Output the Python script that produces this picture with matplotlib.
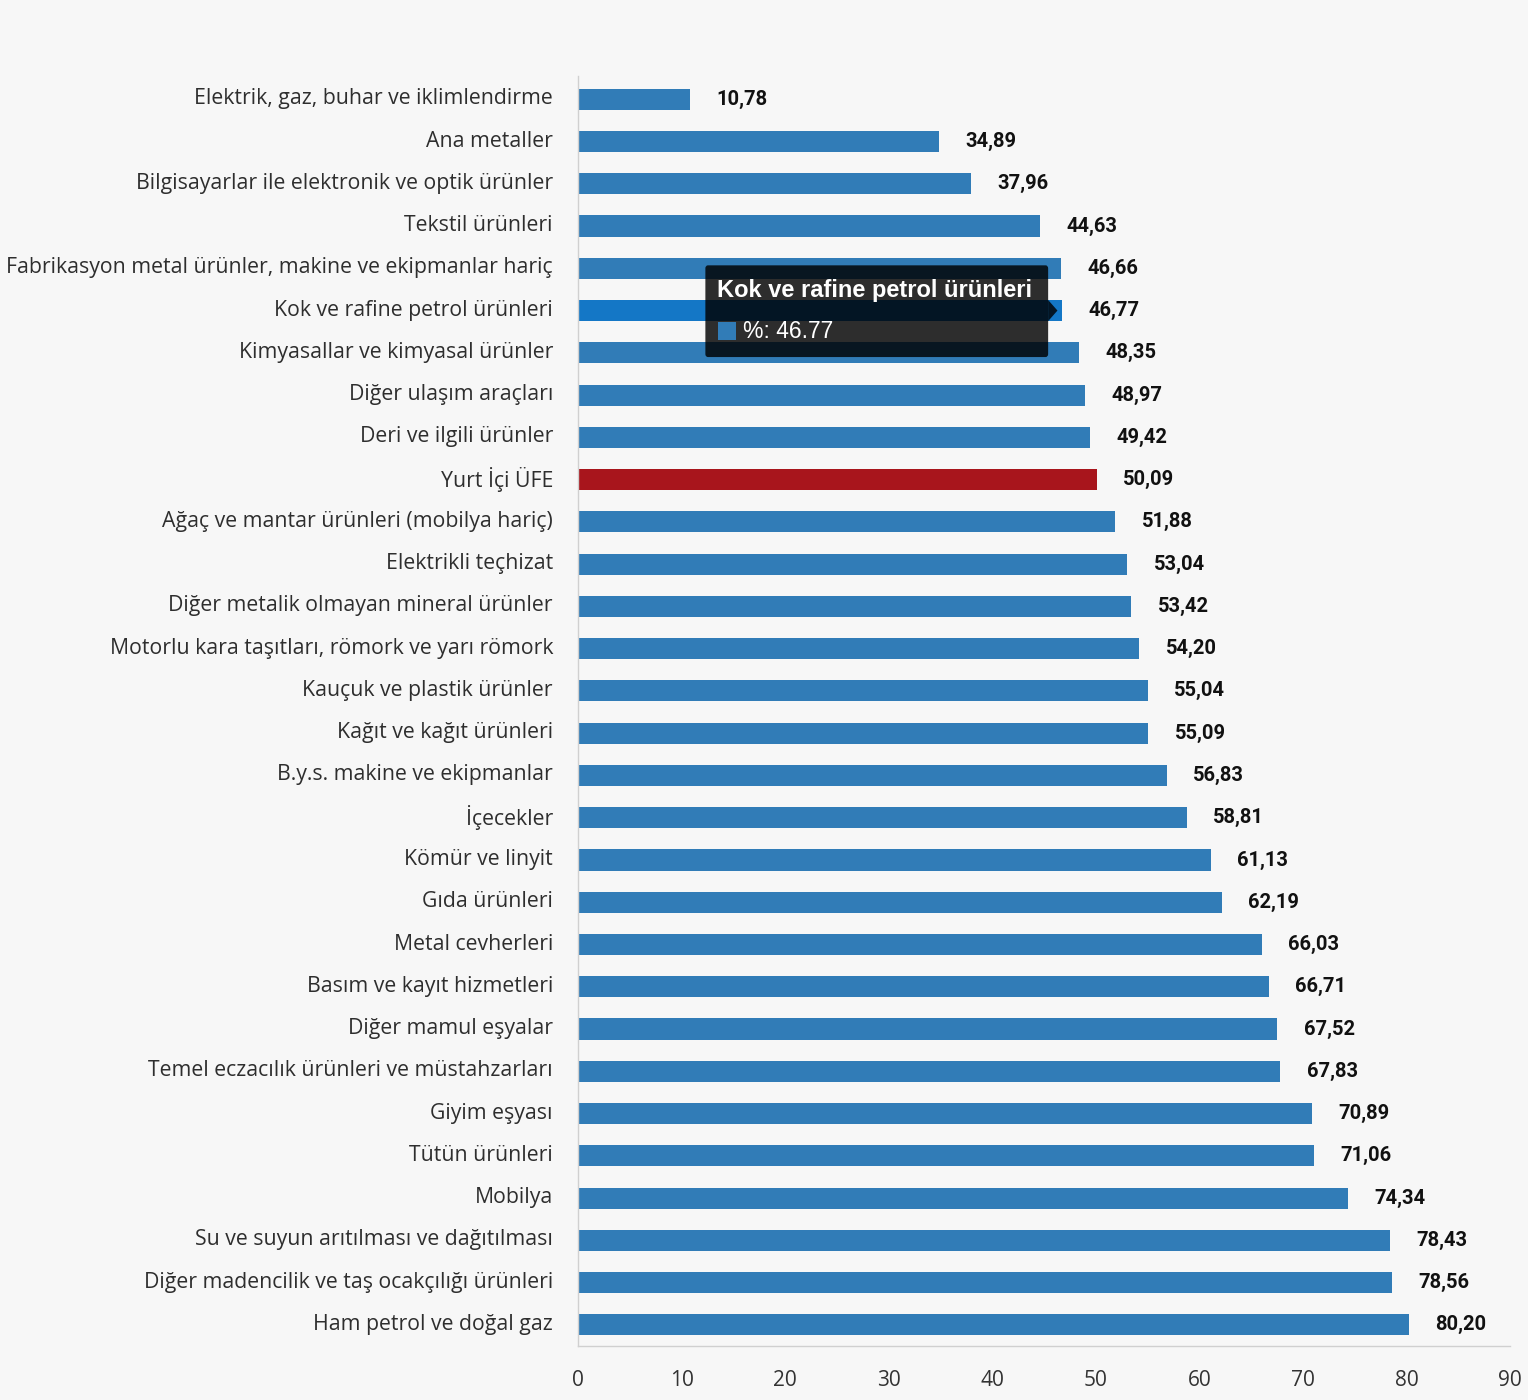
import matplotlib
matplotlib.use("Agg")
import matplotlib.pyplot as plt
from matplotlib.patches import FancyBboxPatch, Polygon, Rectangle
from matplotlib.transforms import ScaledTranslation

kategoriler = [
    "Elektrik, gaz, buhar ve iklimlendirme",
    "Ana metaller",
    "Bilgisayarlar ile elektronik ve optik ürünler",
    "Tekstil ürünleri",
    "Fabrikasyon metal ürünler, makine ve ekipmanlar hariç",
    "Kok ve rafine petrol ürünleri",
    "Kimyasallar ve kimyasal ürünler",
    "Diğer ulaşım araçları",
    "Deri ve ilgili ürünler",
    "Yurt İçi ÜFE",
    "Ağaç ve mantar ürünleri (mobilya hariç)",
    "Elektrikli teçhizat",
    "Diğer metalik olmayan mineral ürünler",
    "Motorlu kara taşıtları, römork ve yarı römork",
    "Kauçuk ve plastik ürünler",
    "Kağıt ve kağıt ürünleri",
    "B.y.s. makine ve ekipmanlar",
    "İçecekler",
    "Kömür ve linyit",
    "Gıda ürünleri",
    "Metal cevherleri",
    "Basım ve kayıt hizmetleri",
    "Diğer mamul eşyalar",
    "Temel eczacılık ürünleri ve müstahzarları",
    "Giyim eşyası",
    "Tütün ürünleri",
    "Mobilya",
    "Su ve suyun arıtılması ve dağıtılması",
    "Diğer madencilik ve taş ocakçılığı ürünleri",
    "Ham petrol ve doğal gaz",
]
degerler = [10.78, 34.89, 37.96, 44.63, 46.66, 46.77, 48.35, 48.97, 49.42, 50.09,
            51.88, 53.04, 53.42, 54.20, 55.04, 55.09, 56.83, 58.81, 61.13, 62.19,
            66.03, 66.71, 67.52, 67.83, 70.89, 71.06, 74.34, 78.43, 78.56, 80.20]
x_ticks = [0, 10, 20, 30, 40, 50, 60, 70, 80, 90]

vurgu = "Yurt İçi ÜFE"
secili = "Kok ve rafine petrol ürünleri"

bg = "#f7f7f7"
mavi = "#317cb7"
kirmizi = "#a8151c"
hover = "#1477c6"

fig = plt.figure(figsize=(15.28, 14), dpi=100, facecolor=bg)
n = len(kategoriler)
# axes in pixel terms: left 578, right 1510, top 76, bottom 1346
ax = fig.add_axes([578/1528, 54/1400, (1510-578)/1528, (1346-76)/1400], facecolor=bg)

renkler = []
for k in kategoriler:
    if k == vurgu:
        renkler.append(kirmizi)
    elif k == secili:
        renkler.append(hover)
    else:
        renkler.append(mavi)

y = list(range(n))
ax.barh(y, degerler, height=0.5, color=renkler, zorder=2)
ax.set_ylim(n - 0.5, -0.55)
ax.set_xlim(0, 90)

ax.set_yticks(y)
ax.set_yticklabels(kategoriler, fontsize=15.3, color="#2e2e2e", family="Open Sans")
ax.set_xticks(x_ticks)
ax.set_xticklabels([str(t) for t in x_ticks], fontsize=15, color="#333333", family="Open Sans")
ax.tick_params(axis="y", length=0, pad=18)
ax.tick_params(axis="x", length=0, pad=17)
kaydir = ScaledTranslation(0, 3 / 100, fig.dpi_scale_trans)
for lbl in ax.get_yticklabels():
    lbl.set_transform(lbl.get_transform() + kaydir)

for s in ["top", "right"]:
    ax.spines[s].set_visible(False)
ax.spines["left"].set_color("#d0d0d0")
ax.spines["bottom"].set_color("#d0d0d0")
ax.spines["left"].set_linewidth(1)
ax.spines["bottom"].set_linewidth(1)

for yi, v in zip(y, degerler):
    ax.annotate(f"{v:.2f}".replace(".", ","), xy=(v, yi), xytext=(19, 0),
                textcoords="offset points", va="center", ha="left",
                fontsize=14.5, fontweight="bold", color="#111111", family="Roboto")

# tooltip
i = kategoriler.index(secili)
v = degerler[i]
x0, x1 = 12.3, 45.4
yt0, yt1 = i - 1.07, i + 1.1
box = FancyBboxPatch((x0, yt0), x1 - x0, yt1 - yt0,
                     boxstyle="round,pad=0,rounding_size=0.25",
                     mutation_aspect=1 / 3.5,
                     facecolor=(0, 0, 0, 0.82), edgecolor="none", zorder=5)
ax.add_patch(box)
ax.add_patch(Polygon([[x1, i - 0.25], [x1 + 0.9, i], [x1, i + 0.25]],
                     closed=True, facecolor=(0, 0, 0, 0.82), edgecolor="none", zorder=5))
ax.text(x0 + 1.1, i - 0.48, secili, color="white", fontsize=17, fontweight="bold",
        family="Liberation Sans", va="center", ha="left", zorder=6)
ax.add_patch(Rectangle((x0 + 1.2, i + 0.27), 1.75, 0.42, facecolor=mavi,
                       edgecolor="none", zorder=6))
ax.text(x0 + 3.6, i + 0.5, f"%: {v:.2f}", color="white", fontsize=16.5,
        family="Liberation Sans", va="center", ha="left", zorder=6)

plt.savefig("out.png", dpi=100, facecolor=bg)
